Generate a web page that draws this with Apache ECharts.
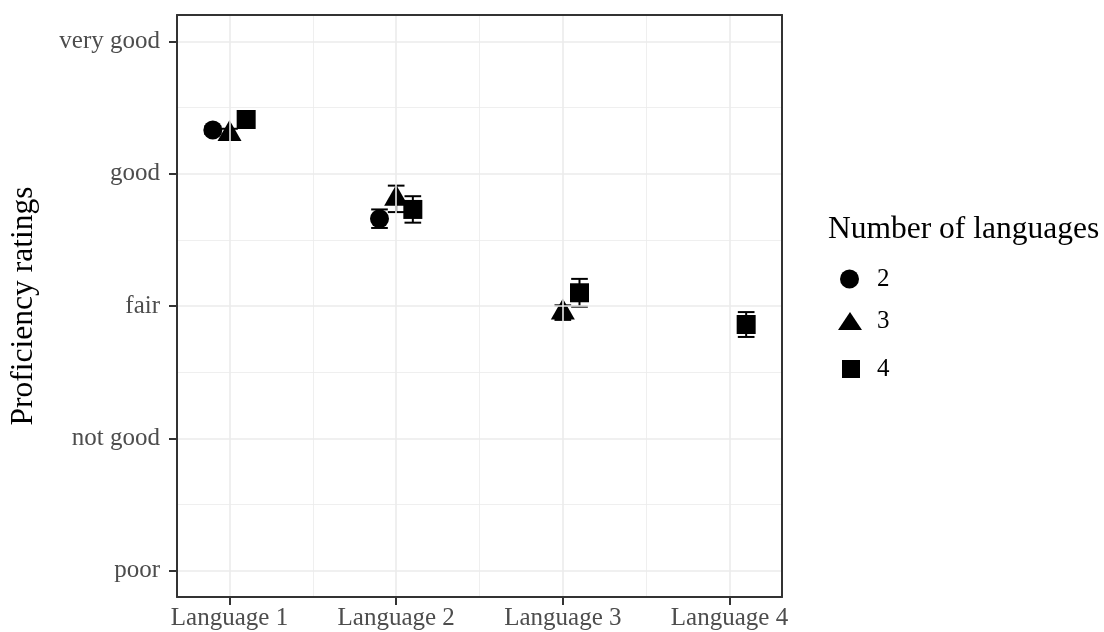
<!DOCTYPE html>
<html>
<head>
<meta charset="utf-8">
<title>Proficiency ratings by number of languages</title>
<script src="https://cdn.jsdelivr.net/npm/echarts@6/dist/echarts.min.js"></script>
<style>
  html, body { margin: 0; padding: 0; background: #fff; }
  #chart { width: 1104px; height: 632px; }
</style>
</head>
<body>
<div id="chart"></div>
<script>
// Languages on the x axis, rating scale on the y axis (1 = poor ... 5 = very good)
const categories = ['Language 1', 'Language 2', 'Language 3', 'Language 4'];
const ratingLabels = ['poor', 'not good', 'fair', 'good', 'very good'];
const groupNames = ['2', '3', '4'];

// Mean rating per language, one array per group (null = no data)
const mean2 = [4.33, 3.66, null, null];
const mean3 = [4.30, 3.81, 2.95, null];
const mean4 = [4.41, 3.73, 3.10, 2.86];

// Half-length of each error bar
const err2 = [0.03, 0.07, null, null];
const err3 = [0.04, 0.10, 0.055, null];
const err4 = [0.05, 0.10, 0.105, 0.094];

const FONT = 'Liberation Serif';
const dodge = [-0.1, 0, 0.1];
const whiskerHalf = 0.05;

const means = [mean2, mean3, mean4];
const errs = [err2, err3, err4];

function pointData(g) {
  const out = [];
  means[g].forEach((m, i) => { if (m != null) out.push([i + 1 + dodge[g], m]); });
  return out;
}
function barData(g) {
  const out = [];
  means[g].forEach((m, i) => {
    if (m != null) out.push([i + 1 + dodge[g], m - errs[g][i], m + errs[g][i]]);
  });
  return out;
}

// Grid line positions on the axis scales
const majorX = categories.map((c, i) => i + 1);
const minorX = majorX.slice(0, -1).map(v => v + 0.5);
const majorY = ratingLabels.map((r, i) => i + 1);
const minorY = majorY.slice(0, -1).map(v => v + 0.5);

function gridSeries(xs, ys, width) {
  return {
    type: 'scatter', data: [], silent: true, z: 1,
    markLine: {
      silent: true, symbol: 'none', animation: false,
      label: { show: false },
      emphasis: { disabled: true },
      lineStyle: { color: '#EBEBEB', width: width, type: 'solid' },
      data: xs.map(v => ({ xAxis: v })).concat(ys.map(v => ({ yAxis: v })))
    }
  };
}

function errorSeries(g) {
  return {
    type: 'custom', name: groupNames[g] + ' err', silent: true, z: 3,
    data: barData(g),
    renderItem: function (params, api) {
      const x = api.value(0);
      const lo = api.coord([x, api.value(1)]);
      const hi = api.coord([x, api.value(2)]);
      const hw = api.coord([x + whiskerHalf, api.value(1)])[0] - lo[0];
      const st = { stroke: '#000', lineWidth: 2 };
      return {
        type: 'group',
        children: [
          { type: 'line', shape: { x1: lo[0], y1: lo[1], x2: hi[0], y2: hi[1] }, style: st },
          { type: 'line', shape: { x1: lo[0] - hw, y1: lo[1], x2: lo[0] + hw, y2: lo[1] }, style: st },
          { type: 'line', shape: { x1: hi[0] - hw, y1: hi[1], x2: hi[0] + hw, y2: hi[1] }, style: st }
        ]
      };
    }
  };
}

const symbols = [
  { symbol: 'circle', size: 19, offset: [0, 0] },
  { symbol: 'triangle', size: [24, 21], offset: [0, -3.5] },
  { symbol: 'rect', size: 19, offset: [0, 0] }
];

function pointSeries(g) {
  return {
    type: 'scatter', name: groupNames[g], z: 4,
    data: pointData(g),
    symbol: symbols[g].symbol,
    symbolSize: symbols[g].size,
    symbolOffset: symbols[g].offset,
    itemStyle: { color: '#000', opacity: 1 },
    emphasis: { disabled: true }
  };
}

function legendFor(g, left, top, w, h, pad) {
  return {
    data: [{ name: groupNames[g], icon: symbols[g].symbol }],
    orient: 'vertical', left: left, top: top, padding: 0,
    itemWidth: w, itemHeight: h, selectedMode: false,
    itemStyle: { color: '#000' },
    textStyle: { fontFamily: FONT, fontSize: 25, color: '#000', lineHeight: 25, padding: [0, 0, 0, pad] }
  };
}

const axisLineStyle = { color: '#333333', width: 2 };

const option = {
  animation: false,
  backgroundColor: '#ffffff',
  title: {
    text: 'Number of languages', left: 828, top: 214, padding: 0,
    textStyle: { fontFamily: FONT, fontSize: 31.5, fontWeight: 'normal', color: '#000' }
  },
  legend: [
    legendFor(0, 840, 266.5, 19, 19, 13),
    legendFor(1, 838, 308.5, 24, 18, 10),
    legendFor(2, 842, 356.5, 18, 18, 12)
  ],
  grid: { left: 177, right: 322, top: 15, bottom: 35, containLabel: false },
  xAxis: [{
    type: 'value', min: 0.685, max: 4.315, z: 10,
    axisLine: { show: true, onZero: false, lineStyle: axisLineStyle },
    axisTick: { show: true, customValues: majorX, length: 8, lineStyle: axisLineStyle },
    axisLabel: {
      customValues: majorX, margin: 9,
      formatter: v => categories[Math.round(v) - 1],
      fontFamily: FONT, fontSize: 25, color: '#4D4D4D'
    },
    splitLine: { show: false }
  }, {
    type: 'value', position: 'top', min: 0.685, max: 4.315, z: 10,
    axisLine: { show: true, onZero: false, lineStyle: axisLineStyle },
    axisTick: { show: false }, axisLabel: { show: false }, splitLine: { show: false }
  }],
  yAxis: [{
    type: 'value', min: 0.8, max: 5.2, z: 10,
    name: 'Proficiency ratings', nameLocation: 'middle', nameRotate: 90, nameGap: 137,
    nameTextStyle: { fontFamily: FONT, fontSize: 31.5, color: '#000' },
    axisLine: { show: true, onZero: false, lineStyle: axisLineStyle },
    axisTick: { show: true, customValues: majorY, length: 8, lineStyle: axisLineStyle },
    axisLabel: {
      customValues: majorY, margin: 17,
      formatter: v => ratingLabels[Math.round(v) - 1],
      fontFamily: FONT, fontSize: 25, color: '#4D4D4D'
    },
    splitLine: { show: false }
  }, {
    type: 'value', position: 'right', min: 0.8, max: 5.2, z: 10,
    axisLine: { show: true, onZero: false, lineStyle: axisLineStyle },
    axisTick: { show: false }, axisLabel: { show: false }, splitLine: { show: false }
  }],
  series: [
    gridSeries(minorX, minorY, 0.8),
    gridSeries(majorX, majorY, 1.6),
    errorSeries(0), errorSeries(1), errorSeries(2),
    pointSeries(0), pointSeries(1), pointSeries(2)
  ]
};

const chart = echarts.init(document.getElementById('chart'), null, { renderer: 'canvas' });
chart.setOption(option);
</script>
</body>
</html>
